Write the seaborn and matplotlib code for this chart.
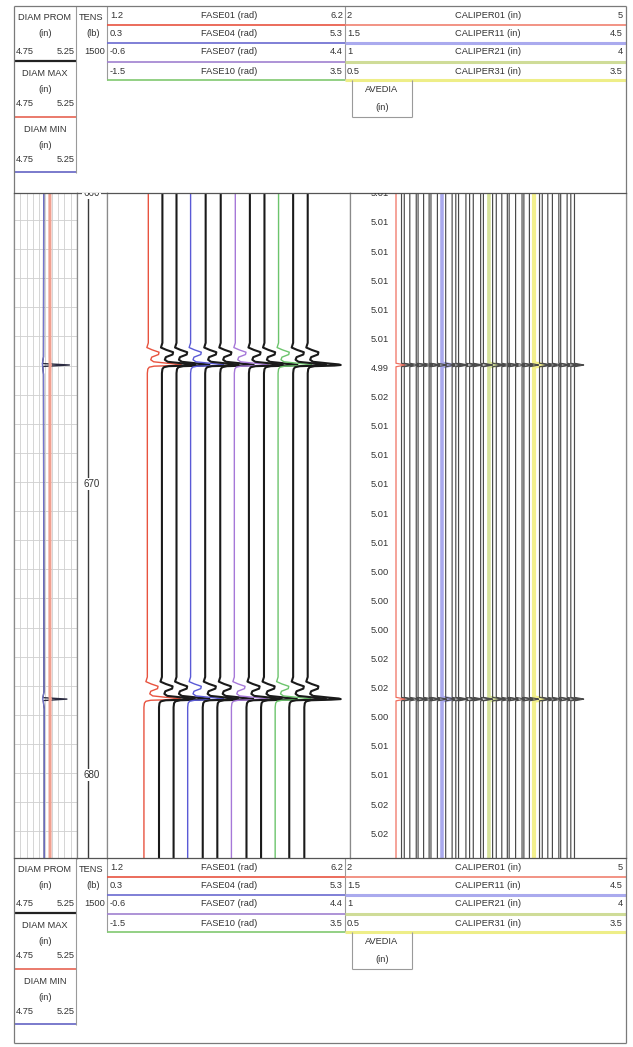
import matplotlib
matplotlib.use("Agg")
import matplotlib.pyplot as plt
import numpy as np
import pandas as pd
import seaborn as sns

W, H = 633, 1047

# depth window of the log (ft) and the two joint depths
depth_top = 660.07
depth_bottom = 682.92
joint_depths = [665.98, 677.46]

# track 1 : borehole diameter (in)
diam_depth = [659.9, 665.7, 665.93, 665.98, 666.03, 666.3, 677.2, 677.41, 677.46, 677.51, 677.8, 683.1]
diam_max = [5.035, 5.035, 5.036, 5.04, 5.036, 5.035, 5.035, 5.036, 5.04, 5.036, 5.036, 5.036]
diam_min = [4.986, 4.984, 4.976, 4.975, 4.978, 4.984, 4.988, 4.98, 4.976, 4.982, 4.99, 4.99]
diam_prom = [4.986, 4.984, 4.976, 5.19, 4.978, 4.984, 4.988, 4.98, 5.17, 4.982, 4.99, 4.99]

# depth track : tension (lb)
tens_depth = [659.9, 683.1]
tens = [550, 550]
depth_marks = [660, 670, 680]

# phase track (rad), 12 curves; curve k is shown on a scale shifted by 0.3 rad
fase_names = ["FASE%02d" % (i + 1) for i in range(12)]
fase_colors = ["#e8533f", "#1a1a1a", "#1a1a1a", "#5a5ad6", "#1a1a1a", "#1a1a1a",
               "#a678d8", "#1a1a1a", "#1a1a1a", "#6cc46c", "#1a1a1a", "#1a1a1a"]
fase_top = [2.05, 2.04, 2.03, 2.02, 2.03, 2.04, 2.04, 2.04, 2.04, 2.03, 2.03, 2.03]
fase_mid = [2.03, 2.03, 2.03, 2.02, 2.02, 2.03, 2.02, 2.02, 2.03, 2.02, 2.03, 2.03]
fase_low = [1.96, 1.97, 1.97, 1.96, 1.97, 1.97, 1.96, 1.97, 1.97, 1.96, 1.95, 1.96]
# response around a joint: depth offset (ft) and phase offset (rad)
joint_dz = [-0.76, -0.60, -0.52, -0.44, -0.36, -0.27, -0.18, -0.11, -0.05, -0.02, 0.0, 0.02,
            0.04, 0.075, 0.14, 0.28]
fase_wave = [0.0, -0.03, 0.08, 0.22, 0.21, 0.07, 0.05, 0.11, 0.45, 0.64, 0.68, 0.55,
             0.14, 0.04, 0.01, 0.0]

# caliper track (in), 40 arms; arm k is shown on a scale shifted by 0.05 in
cal_values = [2.50, 2.51, 2.49, 2.50, 2.52, 2.49, 2.50, 2.51, 2.48, 2.50,
              2.50, 2.49, 2.51, 2.50, 2.48, 2.51, 2.50, 2.49, 2.52, 2.50,
              2.51, 2.50, 2.49, 2.50, 2.51, 2.48, 2.50, 2.52, 2.49, 2.50,
              2.50, 2.51, 2.49, 2.50, 2.50, 2.52, 2.49, 2.51, 2.50, 2.49]
cal_dz = [-0.06, -0.02, 0.0, 0.02, 0.06]
cal_wave = [0.0, 0.07, 0.10, 0.07, 0.0]
cal_special = {0: ("#f07060", 0.9), 10: ("#aaaaee", 2.6), 20: ("#d6e29a", 2.6), 30: ("#f3f08c", 3.0)}

# average diameter printed every foot
avedia_depth = list(range(660, 684))
avedia = [5.01, 5.01, 5.01, 5.01, 5.01, 5.01, 4.99, 5.02, 5.01, 5.01, 5.01, 5.01,
          5.01, 5.00, 5.00, 5.00, 5.02, 5.02, 5.00, 5.01, 5.01, 5.02, 5.02, 5.02]

# header rows
fase_rows = [("1.2", "FASE01 (rad)", "6.2", "#e8533f"),
             ("0.3", "FASE04 (rad)", "5.3", "#6a6ad0"),
             ("-0.6", "FASE07 (rad)", "4.4", "#a080d0"),
             ("-1.5", "FASE10 (rad)", "3.5", "#80c870")]
cal_rows = [("2", "CALIPER01 (in)", "5", "#f08070"),
            ("1.5", "CALIPER11 (in)", "4.5", "#aaaaee"),
            ("1", "CALIPER21 (in)", "4", "#cfdc98"),
            ("0.5", "CALIPER31 (in)", "3.5", "#eeee88")]

sns.set_theme(style="white")
plt.rcParams["font.family"] = ["Liberation Sans", "DejaVu Sans"]

fig = plt.figure(figsize=(W / 100, H / 100), dpi=100)

bg = fig.add_axes([0, 0, 1, 1])
bg.set_xlim(0, W)
bg.set_ylim(H, 0)
bg.axis("off")

TC = "#333333"
FS = 6.7
GRAY = "#9a9a9a"


def hline(y, x0, x1, c=GRAY, lw=0.8):
    bg.plot([x0, x1], [y, y], color=c, lw=lw, solid_capstyle="butt")


def vline(x, y0, y1, c=GRAY, lw=0.8):
    bg.plot([x, x], [y0, y1], color=c, lw=lw, solid_capstyle="butt")


def txt(x, y, s, ha="center"):
    bg.text(x, y, s, ha=ha, va="center", fontsize=FS, color=TC)


def header_block(y0):
    # diameter boxes
    txt(45, y0 + 18, "DIAM PROM")
    txt(91, y0 + 18, "TENS")
    txt(45, y0 + 34, "(in)")
    txt(93, y0 + 34, "(lb)")
    txt(16, y0 + 52, "4.75", "left")
    txt(75, y0 + 52, "5.25", "right")
    txt(105, y0 + 52, "1500", "right")
    hline(y0 + 61, 14, 76, "#222222", 1.6)
    vline(76, y0 + 6, y0 + 173)
    for (name, yt, col) in [("DIAM MAX", 74, "#e87060"), ("DIAM MIN", 129, "#7070c8")]:
        txt(45, y0 + yt, name)
        txt(45, y0 + yt + 16, "(in)")
        txt(16, y0 + yt + 30, "4.75", "left")
        txt(75, y0 + yt + 30, "5.25", "right")
        hline(y0 + yt + 43, 14, 76, col, 1.3)
    # phase and caliper scales
    vline(107, y0 + 6, y0 + 80)
    vline(345, y0 + 6, y0 + 80)
    ys = [15, 34, 52, 71]
    yl = [25, 43, 62, 80]
    for (lo, name, hi, col), yt, ly in zip(fase_rows, ys, yl):
        txt(110, y0 + yt, lo, "left")
        txt(229, y0 + yt, name)
        txt(343, y0 + yt, hi, "right")
        hline(y0 + ly, 107, 345, col, 1.2)
    for i, ((lo, name, hi, col), yt, ly) in enumerate(zip(cal_rows, ys, yl)):
        txt(347, y0 + yt, lo, "left")
        txt(488, y0 + yt, name)
        txt(623, y0 + yt, hi, "right")
        hline(y0 + ly, 345, 626, col, 2.2 if i else 1.2)
    # average diameter box
    vline(352, y0 + 80, y0 + 117)
    vline(412, y0 + 80, y0 + 117)
    hline(y0 + 117, 352, 412)
    txt(382, y0 + 90, "AVEDIA")
    txt(382, y0 + 108, "(in)")


header_block(0)
header_block(852)
# outer frame
hline(6, 14, 626, "#7a7a7a", 0.9)
hline(1043, 14, 626, "#7a7a7a", 0.9)
vline(14, 6, 1043, "#7a7a7a", 0.9)
vline(626, 6, 1043, "#7a7a7a", 0.9)

main_top, main_bottom = 193, 858


def px_axes(x0, x1):
    ax = fig.add_axes([x0 / W, 1 - main_bottom / H, (x1 - x0) / W, (main_bottom - main_top) / H])
    ax.set_ylim(depth_bottom, depth_top)
    ax.set_facecolor("white")
    for s in ax.spines.values():
        s.set_color("#8a8a8a")
        s.set_linewidth(0.9)
    ax.spines["top"].set_color("#555555")
    ax.spines["bottom"].set_color("#555555")
    ax.tick_params(length=0, labelleft=False, labelbottom=False)
    return ax


# ---- track 1
ax1 = px_axes(14, 77)
ax1.set_xlim(4.75, 5.25)
ax1.set_xticks(np.arange(4.75, 5.2501, 0.05))
ax1.set_yticks(avedia_depth)
ax1.grid(True, color="#cfcfcf", lw=0.6)
sns.lineplot(x=diam_prom, y=diam_depth, orient="y", sort=False, estimator=None,
             color="#2a2a40", lw=1.0, ax=ax1)
sns.lineplot(x=diam_max, y=diam_depth, orient="y", sort=False, estimator=None,
             color="#f0a090", lw=2.2, ax=ax1)
sns.lineplot(x=diam_min, y=diam_depth, orient="y", sort=False, estimator=None,
             color="#7474d0", lw=0.9, ax=ax1)
ax1.set(xlabel="", ylabel="")
ax1.set_ylim(depth_bottom, depth_top)

# ---- depth track
ax2 = px_axes(77, 107)
ax2.set_xlim(0, 1500)
sns.lineplot(x=tens, y=tens_depth, orient="y", sort=False, estimator=None,
             color="#3a3a3a", lw=1.0, ax=ax2)
for d in depth_marks:
    ax2.text(0.48, d + 0.08, str(d), transform=ax2.get_yaxis_transform(), ha="center",
             va="center", fontsize=7, color=TC, clip_on=True,
             bbox=dict(boxstyle="square,pad=0.1", fc="white", ec="none"))
ax2.set(xlabel="", ylabel="")
ax2.set_ylim(depth_bottom, depth_top)

# ---- phase track
ax3 = px_axes(107, 350)
ax3.set_xlim(1.2, 6.2)
rows = []
for k in range(12):
    bases = [(fase_top[k], fase_mid[k]), (fase_mid[k], fase_low[k])]
    rows.append((fase_names[k], depth_top - 0.3, fase_top[k] + 0.3 * k))
    for jd, (above, below) in zip(joint_depths, bases):
        for dz, w in zip(joint_dz, fase_wave):
            base = above if dz <= 0 else below
            rows.append((fase_names[k], jd + dz, base + w + 0.3 * k))
    rows.append((fase_names[k], depth_bottom + 0.3, fase_low[k] + 0.3 * k))
fase_df = pd.DataFrame(rows, columns=["curve", "depth", "pos"])
for k, name in enumerate(fase_names):
    sub = fase_df[fase_df.curve == name]
    black = fase_colors[k] == "#1a1a1a"
    sns.lineplot(data=sub, x="pos", y="depth", orient="y", sort=False, estimator=None,
                 color=fase_colors[k], lw=1.5 if black else 1.0, ax=ax3)
ax3.set(xlabel="", ylabel="")
ax3.set_ylim(depth_bottom, depth_top)

# ---- caliper track
ax4 = px_axes(350, 626)
ax4.set_xlim(2, 5)
cal_rows_data = []
for k, v in enumerate(cal_values):
    cal_rows_data.append((k, depth_top - 0.3, v + 0.05 * k))
    for jd in joint_depths:
        for dz, w in zip(cal_dz, cal_wave):
            cal_rows_data.append((k, jd + dz, v + w + 0.05 * k))
    cal_rows_data.append((k, depth_bottom + 0.3, v + 0.05 * k))
cal_df = pd.DataFrame(cal_rows_data, columns=["arm", "depth", "pos"])
for k in sorted(cal_special):
    col, lw = cal_special[k]
    sns.lineplot(data=cal_df[cal_df.arm == k], x="pos", y="depth", orient="y", sort=False,
                 estimator=None, color=col, lw=lw, ax=ax4)
for k in range(len(cal_values)):
    if k in cal_special:
        continue
    sns.lineplot(data=cal_df[cal_df.arm == k], x="pos", y="depth", orient="y", sort=False,
                 estimator=None, color="#4a4a4a", lw=0.85, ax=ax4)
for d, a in zip(avedia_depth, avedia):
    ax4.text(30 / 276, d + 0.1, "%.2f" % a, transform=ax4.get_yaxis_transform(),
             ha="center", va="center", fontsize=FS, color=TC, clip_on=True)
ax4.set(xlabel="", ylabel="")
ax4.set_ylim(depth_bottom, depth_top)

fig.savefig("out.png", dpi=100)
